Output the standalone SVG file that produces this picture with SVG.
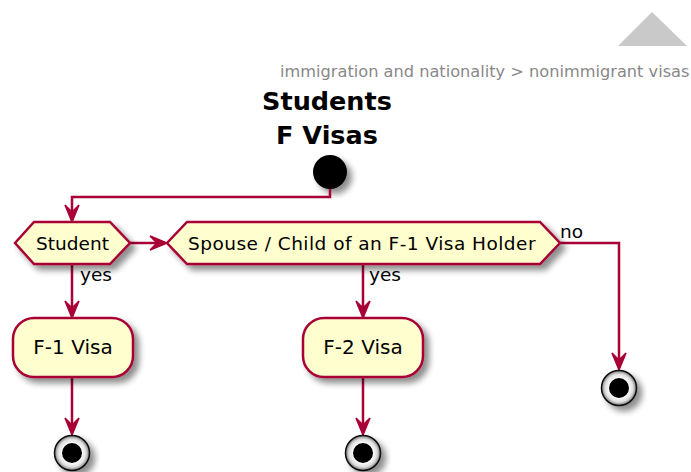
<svg xmlns="http://www.w3.org/2000/svg" width="691" height="472" viewBox="0 0 691 472">
<style>
.box{fill:#FEFECE;stroke:#A80036;stroke-width:2.5}
.ln{fill:none;stroke:#A80036;stroke-width:2.5}
.ah{fill:#A80036;stroke:#A80036;stroke-width:1.5}
.t{font-family:"DejaVu Sans",sans-serif;fill:#000}
.lbl{font-family:"DejaVu Sans",sans-serif;font-size:18.5px;fill:#000}
</style>
<defs>
<filter id="sh" x="-20%" y="-20%" width="150%" height="160%">
<feGaussianBlur in="SourceAlpha" stdDeviation="3"/>
<feOffset dx="5" dy="5" result="b"/>
<feComponentTransfer><feFuncA type="linear" slope="0.45"/></feComponentTransfer>
<feMerge><feMergeNode/><feMergeNode in="SourceGraphic"/></feMerge>
</filter>
<radialGradient id="eg" cx="50%" cy="50%" r="50%">
<stop offset="0.55" stop-color="#ffffff"/>
<stop offset="0.8" stop-color="#dddddd"/>
<stop offset="1" stop-color="#777777"/>
</radialGradient>
<path id="arr" d="M0,0 L-7,-17 L0,-10 L7,-17 Z"/>
</defs>
<rect width="691" height="472" fill="#ffffff"/>
<polygon points="652,12 618,46 687,46" fill="#C9C9C9"/>
<text x="280" y="77" font-family="DejaVu Sans,sans-serif" font-size="16.2" fill="#888888">immigration and nationality &gt; nonimmigrant visas</text>
<g id="title">
<text x="327" y="110" text-anchor="middle" class="t" font-size="25.5" font-weight="bold">Students</text>
<text x="327" y="144" text-anchor="middle" class="t" font-size="25.5" font-weight="bold">F Visas</text>
</g>
<g id="start"><circle cx="330" cy="172" r="17" fill="#000" filter="url(#sh)"/></g>
<g id="connectors">
<path class="ln" d="M330,189 V197 H72 V215"/>
<use href="#arr" x="72" y="222" class="ah"/>
<path class="ln" d="M130,243 H160"/>
<use href="#arr" class="ah" transform="translate(167,243) rotate(-90)"/>
<path class="ln" d="M72,264 V311"/>
<use href="#arr" x="72" y="318" class="ah"/>
<path class="ln" d="M363,264 V311"/>
<use href="#arr" x="363" y="318" class="ah"/>
<path class="ln" d="M560,243 H619 V363"/>
<use href="#arr" x="619" y="370" class="ah"/>
<path class="ln" d="M72,377 V428"/>
<use href="#arr" x="72" y="435" class="ah"/>
<path class="ln" d="M363,377 V428"/>
<use href="#arr" x="363" y="435" class="ah"/>
<text x="80" y="281" class="lbl">yes</text>
<text x="369" y="281" class="lbl">yes</text>
<text x="560" y="238" class="lbl">no</text>
</g>
<g id="student">
<polygon class="box" filter="url(#sh)" points="15,243 34,222 110,222 130,243 110,264 34,264"/>
<text x="72.5" y="249.5" text-anchor="middle" class="lbl">Student</text>
</g>
<g id="spouse">
<polygon class="box" filter="url(#sh)" points="167,243 187,222 540,222 560,243 540,264 187,264"/>
<text x="188" y="249.5" class="lbl" letter-spacing="0.47">Spouse / Child of an F-1 Visa Holder</text>
</g>
<g id="f1">
<rect class="box" filter="url(#sh)" x="13" y="318" width="120" height="59" rx="21"/>
<text x="73" y="354" text-anchor="middle" class="t" font-size="20">F-1 Visa</text>
</g>
<g id="f2">
<rect class="box" filter="url(#sh)" x="303" y="318" width="120" height="59" rx="21"/>
<text x="363" y="354" text-anchor="middle" class="t" font-size="20">F-2 Visa</text>
</g>
<g id="end1"><circle cx="72" cy="453" r="17.5" fill="url(#eg)" stroke="#111" stroke-width="1.5" filter="url(#sh)"/><circle cx="72" cy="453" r="10" fill="#000"/></g>
<g id="end2"><circle cx="363" cy="453" r="17.5" fill="url(#eg)" stroke="#111" stroke-width="1.5" filter="url(#sh)"/><circle cx="363" cy="453" r="10" fill="#000"/></g>
<g id="end3"><circle cx="619" cy="388" r="17.5" fill="url(#eg)" stroke="#111" stroke-width="1.5" filter="url(#sh)"/><circle cx="619" cy="388" r="10" fill="#000"/></g>
</svg>
